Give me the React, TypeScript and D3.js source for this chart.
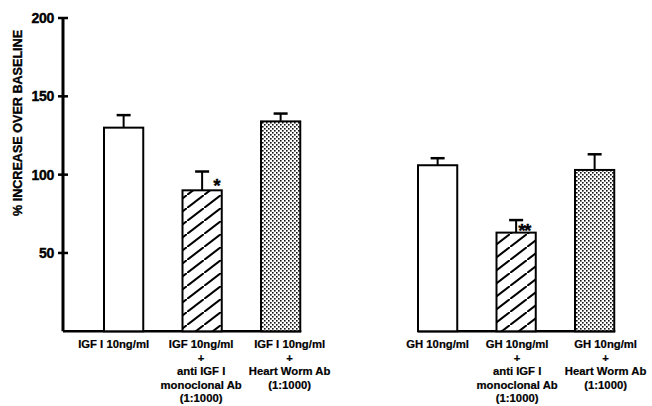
import React, { useEffect, useRef } from "react";
import * as d3 from "d3";

// Bar groups: IGF I stimulation and GH stimulation, each with antibody treatments
const categories = ["igf", "igfAnti", "igfHw", "gap", "gh", "ghAnti", "ghHw"];
const barKeys = ["igf", "igfAnti", "igfHw", "gh", "ghAnti", "ghHw"];
const meanValues = [130, 90, 134, 106, 63, 103];
const semValues = [8, 12, 5, 4.5, 8, 10];
const fillKinds = ["open", "hatch", "dots", "open", "hatch", "dots"];
const significance = ["", "*", "", "", "**", ""];
const categoryLabels = [
  ["IGF I 10ng/ml"],
  ["IGF 10ng/ml", "+", "anti IGF I", "monoclonal Ab", "(1:1000)"],
  ["IGF I 10ng/ml", "+", "Heart Worm Ab", "(1:1000)"],
  ["GH 10ng/ml"],
  ["GH 10ng/ml", "+", "anti IGF I", "monoclonal Ab", "(1:1000)"],
  ["GH 10ng/ml", "+", "Heart Worm Ab", "(1:1000)"],
];
const yTicks = [50, 100, 150, 200];
const yTitle = "% INCREASE OVER BASELINE";

// layout
const W = 652;
const H = 406;
const labelShift = [-10, -1, 9, 0, 1, 11];
const starShift = [0, 11, 0, 0, 2, 0];
const FONT = "'Liberation Sans', Arial, Helvetica, sans-serif";

export default function App() {
  const ref = useRef<SVGSVGElement | null>(null);

  useEffect(() => {
    const svg = d3.select(ref.current);
    svg.selectAll("*").remove();

    const axisX = 63;
    const y = d3.scaleLinear().domain([0, 200]).range([331.3, 18]);
    const x = d3
      .scaleBand<string>()
      .domain(categories)
      .range([64.75, 653.5])
      .paddingInner(0.5)
      .paddingOuter(0.5);

    const defs = svg.append("defs");
    const hatch = defs
      .append("pattern")
      .attr("id", "hatch")
      .attr("patternUnits", "userSpaceOnUse")
      .attr("width", 17)
      .attr("height", 13);
    hatch.append("rect").attr("width", 17).attr("height", 13).attr("fill", "#fff");
    hatch
      .append("path")
      .attr("d", "M-4.25,16.25 L21.25,-3.25")
      .attr("stroke", "#000")
      .attr("stroke-width", 2.1);

    const dots = defs
      .append("pattern")
      .attr("id", "dots")
      .attr("patternUnits", "userSpaceOnUse")
      .attr("width", 4)
      .attr("height", 4);
    dots.append("rect").attr("width", 4).attr("height", 4).attr("fill", "#fff");
    dots.append("rect").attr("x", 0).attr("y", 0).attr("width", 1.6).attr("height", 1.6).attr("fill", "#111");
    dots.append("rect").attr("x", 2).attr("y", 2).attr("width", 1.6).attr("height", 1.6).attr("fill", "#111");

    const fillFor = (k: string) => (k === "hatch" ? "url(#hatch)" : k === "dots" ? "url(#dots)" : "#fff");

    // y axis
    const ax = svg.append("g");
    ax.append("line")
      .attr("x1", axisX)
      .attr("x2", axisX)
      .attr("y1", y(200))
      .attr("y2", y(0))
      .attr("stroke", "#000")
      .attr("stroke-width", 3);
    yTicks.forEach((t) => {
      ax.append("line")
        .attr("x1", axisX - 5)
        .attr("x2", axisX + 5)
        .attr("y1", y(t))
        .attr("y2", y(t))
        .attr("stroke", "#000")
        .attr("stroke-width", 2.5);
      ax.append("text")
        .attr("x", axisX - 9)
        .attr("y", y(t))
        .attr("dy", "0.36em")
        .attr("text-anchor", "end")
        .attr("font-family", FONT)
        .attr("font-weight", "bold")
        .attr("font-size", 14)
        .attr("letter-spacing", -0.3)
        .attr("stroke", "#000")
        .attr("stroke-width", 0.4)
        .text(String(t));
    });
    ax.append("text")
      .attr("transform", `translate(22,${123}) rotate(-90)`)
      .attr("text-anchor", "middle")
      .attr("font-family", FONT)
      .attr("font-weight", "bold")
      .attr("font-size", 12.6)
      .attr("stroke", "#000")
      .attr("stroke-width", 0.35)
      .text(yTitle);

    // baselines under each group
    const baseY = y(0);
    const groups: [number, number][] = [
      [axisX, (x("igfHw") as number) + x.bandwidth()],
      [x("gh") as number, (x("ghHw") as number) + x.bandwidth()],
    ];
    groups.forEach(([a, b]) => {
      svg.append("line")
        .attr("x1", a)
        .attr("x2", b + 1)
        .attr("y1", baseY)
        .attr("y2", baseY)
        .attr("stroke", "#000")
        .attr("stroke-width", 2.5);
    });

    // bars
    barKeys.forEach((k, i) => {
      const x0 = x(k) as number;
      const bw = x.bandwidth();
      const cx = x0 + bw / 2;
      const top = y(meanValues[i]);
      const errTop = y(meanValues[i] + semValues[i]);

      svg.append("line")
        .attr("x1", cx)
        .attr("x2", cx)
        .attr("y1", top)
        .attr("y2", errTop)
        .attr("stroke", "#000")
        .attr("stroke-width", 2);
      svg.append("line")
        .attr("x1", cx - 7)
        .attr("x2", cx + 7)
        .attr("y1", errTop)
        .attr("y2", errTop)
        .attr("stroke", "#000")
        .attr("stroke-width", 2.5);

      svg.append("rect")
        .attr("x", x0)
        .attr("y", top)
        .attr("width", bw)
        .attr("height", baseY - top)
        .attr("fill", fillFor(fillKinds[i]))
        .attr("stroke", "#000")
        .attr("stroke-width", 2);

      if (significance[i]) {
        svg.append("text")
          .attr("x", cx + starShift[i])
          .attr("y", top + (significance[i].length > 1 ? 4.5 : 2))
          .attr("font-family", FONT)
          .attr("font-weight", "bold")
          .attr("font-size", 19)
          .attr("letter-spacing", -1.5)
          .attr("stroke", "#000")
          .attr("stroke-width", 0.3)
          .text(significance[i]);
      }

      const lines = categoryLabels[i];
      const t = svg.append("text")
        .attr("text-anchor", "middle")
        .attr("font-family", FONT)
        .attr("font-weight", "bold")
        .attr("font-size", 11.3)
        .attr("stroke", "#000")
        .attr("stroke-width", 0.2);
      lines.forEach((ln, j) => {
        t.append("tspan")
          .attr("x", cx + labelShift[i])
          .attr("y", 348 + j * 13.6)
          .text(ln);
      });
    });
  }, []);

  return (
    <svg
      ref={ref}
      width={W}
      height={H}
      viewBox={`0 0 ${W} ${H}`}
      style={{ position: "absolute", left: 0, top: 0, background: "#fff" }}
    />
  );
}
